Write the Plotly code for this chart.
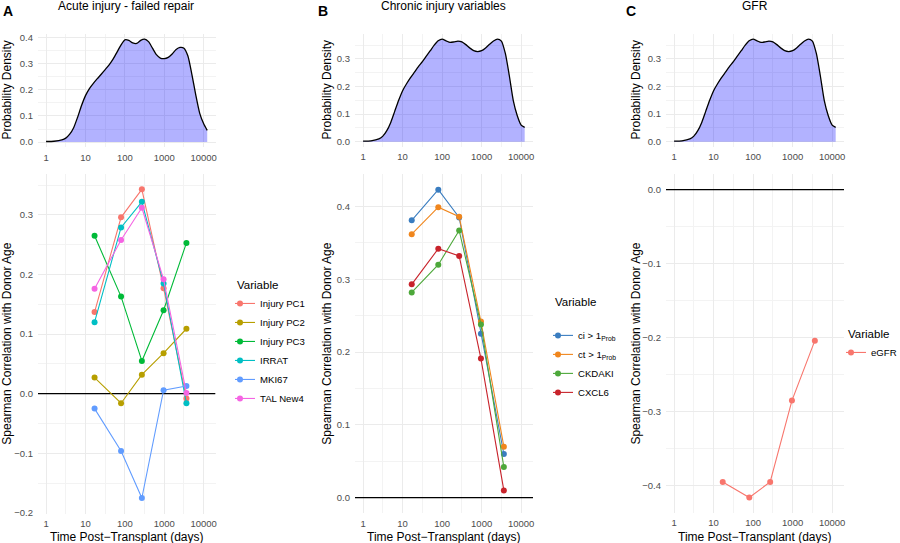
import plotly.graph_objects as go

# ---------------- data ----------------
time_days = [17, 80, 270, 960, 3650]

# Panel A: Acute injury - failed repair
acute_vars = ["Injury PC1", "Injury PC2", "Injury PC3", "IRRAT", "MKI67", "TAL New4"]
acute_vals = {
    "Injury PC1": [0.137, 0.296, 0.343, 0.177, -0.008],
    "Injury PC2": [0.027, -0.016, 0.032, 0.068, 0.109],
    "Injury PC3": [0.265, 0.163, 0.055, 0.140, 0.253],
    "IRRAT":      [0.120, 0.279, 0.322, 0.185, -0.016],
    "MKI67":      [-0.025, -0.096, -0.175, 0.006, 0.013],
    "TAL New4":   [0.176, 0.258, 0.312, 0.192, 0.001],
}
acute_colors = ["#F8766D", "#B79F00", "#00BA38", "#00BFC4", "#619CFF", "#F564E3"]

# Panel B: Chronic injury variables
chronic_vars = ["ci &gt; 1<sub>Prob</sub>", "ct &gt; 1<sub>Prob</sub>", "CKDAKI", "CXCL6"]
chronic_vals = {
    "ci &gt; 1<sub>Prob</sub>": [0.381, 0.423, 0.385, 0.225, 0.060],
    "ct &gt; 1<sub>Prob</sub>": [0.362, 0.399, 0.386, 0.242, 0.070],
    "CKDAKI":                   [0.282, 0.320, 0.367, 0.238, 0.042],
    "CXCL6":                    [0.293, 0.342, 0.332, 0.191, 0.010],
}
chronic_colors = ["#3A7DC0", "#F0861D", "#4DA83A", "#C8232B"]

# Panel C: GFR
gfr_vars = ["eGFR"]
gfr_vals = {"eGFR": [-0.395, -0.416, -0.395, -0.285, -0.204]}
gfr_colors = ["#F8766D"]

# density of biopsy times (x given as log10 days)
dens_log10_days = [0.0, 0.2, 0.4, 0.5, 0.6, 0.7, 0.8, 0.9, 1.0, 1.1, 1.2, 1.3, 1.4, 1.5,
                   1.6, 1.7, 1.8, 1.9, 2.0, 2.1, 2.2, 2.3, 2.4, 2.5, 2.6, 2.7, 2.8, 2.9,
                   3.0, 3.1, 3.2, 3.3, 3.4, 3.5, 3.6, 3.7, 3.8, 3.9, 4.0, 4.09]
dens_A = [0.002, 0.003, 0.008, 0.015, 0.030, 0.055, 0.095, 0.140, 0.178, 0.205, 0.225,
          0.243, 0.260, 0.278, 0.296, 0.318, 0.345, 0.372, 0.392, 0.390, 0.380, 0.378,
          0.390, 0.395, 0.385, 0.360, 0.335, 0.322, 0.320, 0.325, 0.338, 0.355, 0.363,
          0.360, 0.330, 0.260, 0.180, 0.110, 0.070, 0.045]
dens_BC = [0.002, 0.003, 0.010, 0.020, 0.040, 0.070, 0.110, 0.150, 0.185, 0.210, 0.232,
           0.252, 0.272, 0.290, 0.310, 0.330, 0.350, 0.366, 0.372, 0.366, 0.360, 0.362,
           0.365, 0.362, 0.352, 0.340, 0.330, 0.327, 0.330, 0.340, 0.353, 0.365, 0.372,
           0.365, 0.320, 0.240, 0.150, 0.095, 0.060, 0.052]

x_tickvals = [1, 10, 100, 1000, 10000]
x_ticktext = ["1", "10", "100", "1000", "10000"]

panel_titles = ["Acute injury - failed repair", "Chronic injury variables", "GFR"]
panel_letters = ["A", "B", "C"]

# ---------------- layout geometry ----------------
W, H = 900, 543
FONT = "Liberation Sans, Arial, Helvetica, sans-serif"
GRID = "#EBEBEB"
MINOR = "#F3F3F3"
TICKC = "#4D4D4D"

def fx(px):
    return px / W

def fy(py):
    return 1 - py / H

panels = [
    dict(x0=38.0, x1=215.5, top=(33.9, 147.2), bot=(173.8, 513.5)),
    dict(x0=355.0, x1=533.0, top=(34.0, 146.8), bot=(174.3, 513.1)),
    dict(x0=666.0, x1=844.0, top=(34.0, 146.8), bot=(174.3, 512.9)),
]

top_yranges = [[-0.0198, 0.4148], [-0.0186, 0.3906], [-0.0186, 0.3906]]
bot_yranges = [[-0.201, 0.369], [-0.0212, 0.4442], [-0.4368, 0.0208]]
XRANGE = [-0.205, 4.30]

fig = go.Figure()

def xaxis_def(p, anchor, standoff):
    return dict(
        type="log", range=XRANGE, domain=[fx(p["x0"]), fx(p["x1"])], anchor=anchor,
        tickvals=x_tickvals, ticktext=x_ticktext, showline=False, zeroline=False,
        ticks="", ticklabelstandoff=standoff, tickfont=dict(size=9.5, color=TICKC, family=FONT),
        showgrid=True, gridcolor=GRID, gridwidth=1, automargin=False,
        minor=dict(tickvals=[10 ** 0.5, 10 ** 1.5, 10 ** 2.5, 10 ** 3.5],
                   showgrid=True, gridcolor=MINOR, gridwidth=0.6, ticks=""),
    )

def yaxis_def(dom, rng, anchor):
    return dict(
        range=rng, domain=dom, anchor=anchor, dtick=0.1, tick0=0, tickformat=".1f",
        showline=False, zeroline=False, ticks="", ticklabelstandoff=4, automargin=False,
        tickfont=dict(size=9.5, color=TICKC, family=FONT),
        showgrid=True, gridcolor=GRID, gridwidth=1,
        minor=dict(dtick=0.1, tick0=0.05, showgrid=True, gridcolor=MINOR, gridwidth=0.6, ticks=""),
    )

layout_axes = {}
for i, p in enumerate(panels):
    top_n = 2 * i + 1
    bot_n = 2 * i + 2
    tdom = [fy(p["top"][1]), fy(p["top"][0])]
    bdom = [fy(p["bot"][1]), fy(p["bot"][0])]
    layout_axes[f"xaxis{top_n if top_n > 1 else ''}"] = xaxis_def(p, f"y{top_n if top_n > 1 else ''}", 3)
    layout_axes[f"yaxis{top_n if top_n > 1 else ''}"] = yaxis_def(tdom, top_yranges[i], f"x{top_n if top_n > 1 else ''}")
    layout_axes[f"xaxis{bot_n}"] = xaxis_def(p, f"y{bot_n}", 3)
    layout_axes[f"yaxis{bot_n}"] = yaxis_def(bdom, bot_yranges[i], f"x{bot_n}")

# density traces
dens_x = [10 ** v for v in dens_log10_days]
for i, dens in enumerate([dens_A, dens_BC, dens_BC]):
    n = 2 * i + 1
    fig.add_trace(go.Scatter(
        x=dens_x, y=dens, mode="lines", line=dict(color="black", width=1.3, shape="spline", smoothing=0.6),
        fill="tozeroy", fillcolor="rgba(0,0,255,0.30)", showlegend=False, hoverinfo="skip",
        xaxis=f"x{n if n > 1 else ''}", yaxis=f"y{n if n > 1 else ''}",
    ))

# zero reference lines on the correlation panels (drawn as traces, full panel width)
for i in range(3):
    n = 2 * i + 2
    fig.add_trace(go.Scatter(
        x=[10 ** XRANGE[0], 10 ** XRANGE[1]], y=[0, 0], mode="lines",
        line=dict(color="black", width=1.3), showlegend=False, hoverinfo="skip",
        xaxis=f"x{n}", yaxis=f"y{n}", cliponaxis=True,
    ))

# correlation traces
groups = [(acute_vars, acute_vals, acute_colors, "legend"),
          (chronic_vars, chronic_vals, chronic_colors, "legend2"),
          (gfr_vars, gfr_vals, gfr_colors, "legend3")]
for i, (names, vals, cols, leg) in enumerate(groups):
    n = 2 * i + 2
    for name, col in zip(names, cols):
        fig.add_trace(go.Scatter(
            x=time_days, y=vals[name], mode="lines+markers", name=name,
            line=dict(color=col, width=1.1), marker=dict(color=col, size=6),
            xaxis=f"x{n}", yaxis=f"y{n}", legend=leg,
        ))

annotations = []
title_x = [126.5, 443.5, 755.0]
letter_x = [8.0, 323.0, 630.5]
ytitle_x = [7.0, 327.0, 636.0]
for i, p in enumerate(panels):
    annotations.append(dict(text=f"<b>{panel_letters[i]}</b>", x=fx(letter_x[i]), y=fy(11), xref="paper", yref="paper",
                            showarrow=False, xanchor="center", yanchor="middle",
                            font=dict(size=14, color="black", family=FONT)))
    annotations.append(dict(text=panel_titles[i], x=fx(title_x[i]), y=fy(6), xref="paper", yref="paper",
                            showarrow=False, xanchor="center", yanchor="middle",
                            font=dict(size=12, color="black", family=FONT)))
    annotations.append(dict(text="Probability Density", x=fx(ytitle_x[i]), y=fy((p["top"][0] + p["top"][1]) / 2),
                            xref="paper", yref="paper", showarrow=False, textangle=-90,
                            xanchor="center", yanchor="middle", font=dict(size=12, color="black", family=FONT)))
    annotations.append(dict(text="Spearman Correlation with Donor Age", x=fx(ytitle_x[i]),
                            y=fy((p["bot"][0] + p["bot"][1]) / 2), xref="paper", yref="paper", showarrow=False,
                            textangle=-90, xanchor="center", yanchor="middle",
                            font=dict(size=12, color="black", family=FONT)))
    annotations.append(dict(text="Time Post\u2212Transplant (days)", x=fx((p["x0"] + p["x1"]) / 2), y=fy(536.5),
                            xref="paper", yref="paper", showarrow=False, xanchor="center", yanchor="middle",
                            font=dict(size=12, color="black", family=FONT)))

def legend_def(xpx, ypx, title="Variable"):
    return dict(x=fx(xpx), y=fy(ypx), xanchor="left", yanchor="top", xref="paper", yref="paper",
                bgcolor="rgba(0,0,0,0)", borderwidth=0, indentation=-15, tracegroupgap=0,
                title=dict(text=title, font=dict(size=11.5, color="black", family=FONT)),
                font=dict(size=9.6, color="black", family=FONT))

fig.update_layout(
    width=W, height=H, margin=dict(l=0, r=0, t=0, b=0, autoexpand=False),
    paper_bgcolor="white", plot_bgcolor="white",
    font=dict(family=FONT, color="black"),
    annotations=annotations,
    legend=legend_def(235, 274),
    legend2=legend_def(553, 291, "Variable<br> "),
    legend3=legend_def(846, 323),
    **layout_axes,
)

fig.write_html("out.html")
